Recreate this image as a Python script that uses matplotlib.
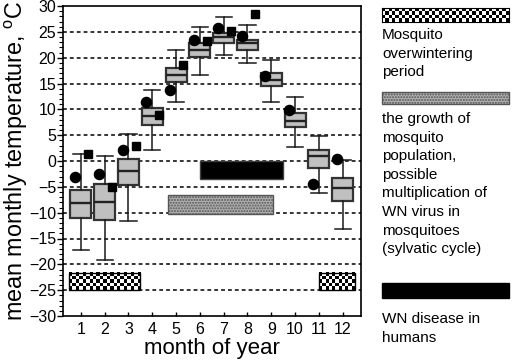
import numpy as np
import matplotlib
matplotlib.use("Agg")
import matplotlib.pyplot as plt
from matplotlib.patches import Rectangle

plt.rcParams["font.family"] = ["Liberation Sans", "DejaVu Sans"]
plt.rcParams["mathtext.fontset"] = "custom"
plt.rcParams["mathtext.rm"] = "Liberation Sans"

# Monatsdaten (Boxplot-Kennwerte)
months = [1, 2, 3, 4, 5, 6, 7, 8, 9, 10, 11, 12]
q1 = [-11.1, -11.5, -4.7, 7.0, 15.2, 20.1, 22.9, 21.4, 14.6, 6.5, -1.4, -7.7]
med = [-8.1, -7.9, -1.9, 8.75, 16.6, 21.5, 24.0, 22.8, 15.7, 7.65, 0.9, -5.3]
q3 = [-5.6, -4.4, 0.3, 10.2, 18.0, 22.9, 24.8, 23.5, 17.05, 9.2, 2.2, -3.2]
whis_lo = [-17.3, -19.2, -11.6, 2.1, 11.4, 16.7, 20.6, 19.0, 11.4, 2.65, -6.1, -13.1]
whis_hi = [1.4, 1.0, 5.3, 13.7, 21.4, 26.0, 27.9, 26.3, 19.6, 12.3, 4.9, 0.2]
circles = [-3.0, -2.5, 2.1, 11.5, 13.7, 23.5, 25.7, 24.2, 16.4, 9.9, -4.5, 0.4]
squares = [1.3, -5.0, 2.9, 9.0, 18.5, 23.2, 25.2, 28.4, np.nan, np.nan, np.nan, np.nan]

# Perioden (Monate)
overwinter_start = [0.5, 11.0]
overwinter_end = [3.5, 12.5]
overwinter_y = (-25.0, -21.7)
growth_period = (4.67, 9.08)
growth_y = (-10.2, -6.6)
disease_period = (6.0, 9.5)
disease_y = (-3.5, 0.0)

legend_texts = ["Mosquito\noverwintering\nperiod",
                "the growth of\nmosquito\npopulation,\npossible\nmultiplication of\nWN virus in\nmosquitoes\n(sylvatic cycle)",
                "WN disease in\nhumans"]


def checker(nx, ny):
    ii, jj = np.indices((ny, nx))
    return (ii + jj) % 2


fig = plt.figure(figsize=(5.17, 3.63), dpi=100)
ax = fig.add_axes([63 / 517, 1 - 316 / 363, 297.5 / 517, 310 / 363])

# Gitterlinien
for yv in range(-25, 30, 5):
    ax.axhline(yv, color="black", lw=1.1, ls=(0, (2.5, 2.0)), zorder=0)

# Boxplots
stats = []
for i in range(len(months)):
    stats.append({"med": med[i], "q1": q1[i], "q3": q3[i],
                  "whislo": whis_lo[i], "whishi": whis_hi[i], "fliers": []})
ax.bxp(stats, positions=months, widths=0.88, patch_artist=True,
       showfliers=False,
       boxprops=dict(facecolor="#c0c0c0", edgecolor="#333333", lw=1.6),
       medianprops=dict(color="#222222", lw=1.7),
       whiskerprops=dict(color="#1a1a1a", lw=1.1),
       capprops=dict(color="#1a1a1a", lw=1.1), capwidths=0.68)

# Punkte
ax.plot(np.array(months) - 0.25, circles, "o", color="black", ms=7.3, zorder=4)
ax.plot(np.array(months) + 0.3, squares, "s", color="black", ms=6.4, zorder=4)

# Überwinterung (kariert)
for x0, x1 in zip(overwinter_start, overwinter_end):
    nx = int(round((x1 - x0) * 23.8 / 3.4))
    ny = int(round((overwinter_y[1] - overwinter_y[0]) * 5.14 / 3.4))
    ax.imshow(checker(nx, ny), cmap="gray", interpolation="nearest",
              extent=(x0, x1, overwinter_y[0], overwinter_y[1]),
              aspect="auto", zorder=2)
    ax.add_patch(Rectangle((x0, overwinter_y[0]), x1 - x0,
                           overwinter_y[1] - overwinter_y[0],
                           fill=False, edgecolor="black", lw=1, zorder=3))

# Vermehrung (grau gepunktet)
ax.add_patch(Rectangle((growth_period[0], growth_y[0]),
                       growth_period[1] - growth_period[0],
                       growth_y[1] - growth_y[0],
                       facecolor="#b0b0b0", edgecolor="#555555",
                       hatch="......", lw=1, zorder=2))

# Erkrankungen (schwarz)
ax.add_patch(Rectangle((disease_period[0], disease_y[0]),
                       disease_period[1] - disease_period[0],
                       disease_y[1] - disease_y[0],
                       facecolor="black", edgecolor="#404040", lw=1, zorder=2))

ax.set_xlim(0.25, 12.75)
ax.set_ylim(-30, 30)
ax.set_xticks(months)
ax.set_xticklabels([str(m) for m in months])
ax.set_yticks(range(-30, 31, 5))
ax.set_yticks(range(-30, 31), minor=True)
ax.tick_params(axis="y", which="major", direction="out", length=4, width=1, labelsize=11.5, pad=1)
ax.tick_params(axis="y", which="minor", direction="out", length=3, width=0.8)
ax.tick_params(axis="x", which="major", direction="in", length=3, width=1, labelsize=11.5, pad=4)
for sp in ax.spines.values():
    sp.set_linewidth(1.2)

ax.set_xlabel("month of year", fontsize=16, labelpad=1)
ax.set_ylabel("mean monthly temperature, $^{\\mathrm{o}}$C", fontsize=16.8, labelpad=-1)

# Legende rechts
lx, lw = 382 / 517, 127 / 517
lax = fig.add_axes([lx, 1 - 22 / 363, lw, 14 / 363])
lax.imshow(checker(38, 4), cmap="gray", interpolation="nearest", aspect="auto")
lax.set_xticks([])
lax.set_yticks([])

fig.add_artist(Rectangle((lx, 1 - 104 / 363), lw, 12 / 363, transform=fig.transFigure,
                         facecolor="#b0b0b0", edgecolor="#555555", hatch="......", lw=1))
fig.add_artist(Rectangle((lx, 1 - 298 / 363), lw, 15 / 363, transform=fig.transFigure,
                         facecolor="black", edgecolor="black", lw=1))

fig.text(lx, 1 - 28 / 363, legend_texts[0], fontsize=11, va="top", linespacing=1.42)
fig.text(lx, 1 - 112 / 363, legend_texts[1], fontsize=11, va="top", linespacing=1.42)
fig.text(lx, 1 - 312 / 363, legend_texts[2], fontsize=11, va="top", linespacing=1.42)

fig.savefig("out.png", dpi=100)
